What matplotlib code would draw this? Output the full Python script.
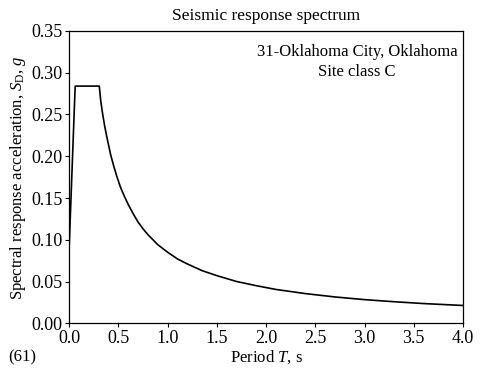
import matplotlib
matplotlib.use("Agg")
import matplotlib.pyplot as plt

plt.rcParams['font.family'] = ['Liberation Serif', 'DejaVu Serif']
plt.rcParams['mathtext.fontset'] = 'custom'
plt.rcParams['mathtext.rm'] = 'Liberation Serif'
plt.rcParams['mathtext.it'] = 'Liberation Serif:italic'

# design response spectrum, period (s) vs spectral acceleration (g)
period = [0.0, 0.06, 0.305, 0.32, 0.34, 0.36, 0.38, 0.40, 0.42, 0.45, 0.48,
          0.52, 0.56, 0.60, 0.65, 0.70, 0.75, 0.80, 0.90, 1.0, 1.1, 1.2,
          1.35, 1.5, 1.7, 1.9, 2.1, 2.4, 2.7, 3.0, 3.3, 3.6, 4.0]
sd = [0.094, 0.284, 0.284, 0.266, 0.250, 0.236, 0.224, 0.213, 0.202, 0.189,
      0.177, 0.163, 0.152, 0.142, 0.131, 0.121, 0.113, 0.106, 0.094, 0.085,
      0.077, 0.071, 0.063, 0.057, 0.050, 0.045, 0.0405, 0.0355, 0.0315,
      0.0283, 0.0258, 0.0236, 0.0213]

xticks = [0.0, 0.5, 1.0, 1.5, 2.0, 2.5, 3.0, 3.5, 4.0]
yticks = [0.00, 0.05, 0.10, 0.15, 0.20, 0.25, 0.30, 0.35]

fig = plt.figure(figsize=(4.81, 3.72), dpi=100)
ax = fig.add_axes([0.144, 0.131, 0.8186, 0.7857])

ax.plot(period, sd, color='black', lw=1.2)

ax.set_xlim(0, 4)
ax.set_ylim(0, 0.35)
ax.set_xticks(xticks)
ax.set_xticklabels(['%.1f' % t for t in xticks])
ax.set_yticks(yticks)
ax.set_yticklabels(['%.2f' % v for v in yticks])
ax.tick_params(direction='out', length=3, width=0.8, labelsize=13, pad=2,
               top=False, right=False)
for s in ax.spines.values():
    s.set_linewidth(0.9)

ax.set_title('Seismic response spectrum', fontsize=12.5, pad=8)
ax.set_xlabel('Period $T$, s', fontsize=12, labelpad=1)
ax.set_ylabel('Spectral response acceleration, $S_\\mathrm{D}$, $g$',
              fontsize=12, labelpad=2)

ax.text(0.731, 0.955, '31-Oklahoma City, Oklahoma\nSite class C',
        transform=ax.transAxes, ha='center', va='top', fontsize=12,
        linespacing=1.3)

fig.text(0.017, 0.038, '(61)', fontsize=12, ha='left', va='center')

fig.savefig('out.png', dpi=100)
